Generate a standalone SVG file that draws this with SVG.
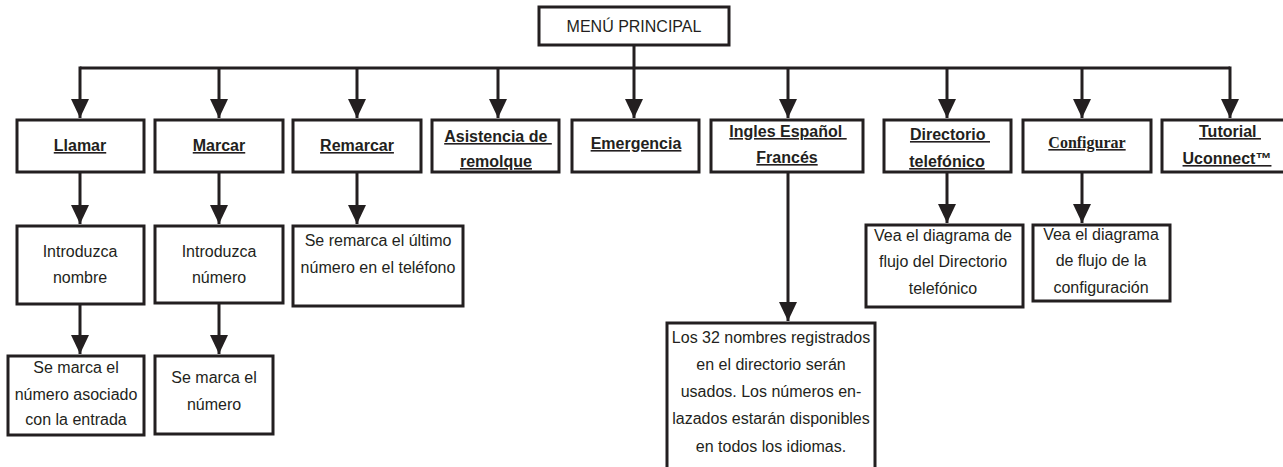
<svg xmlns="http://www.w3.org/2000/svg" width="1283" height="467" viewBox="0 0 1283 467">
<style>
.box{fill:#fff;stroke:#231f20;stroke-width:3}
.ln{fill:none;stroke:#231f20;stroke-width:3}
.t{font-family:"Liberation Sans",Arial,sans-serif;font-size:16px;fill:#231f20;text-anchor:middle}
.h{font-family:"Liberation Sans",Arial,sans-serif;font-size:16px;font-weight:bold;fill:#231f20;text-anchor:middle;text-decoration:underline;white-space:pre}
.hs{font-family:"Liberation Serif","Times New Roman",serif;font-size:16px;font-weight:bold;fill:#231f20;text-anchor:middle;text-decoration:underline}
</style>
<defs>
<marker id="ah" markerUnits="userSpaceOnUse" markerWidth="20" markerHeight="20" refX="19" refY="9" orient="auto" viewBox="0 0 20 18">
<path d="M0,0 L19,9 L0,18 z" fill="#231f20"/>
</marker>
</defs>
<rect width="1283" height="467" fill="#fff"/>
<g id="connectors">
<path class="ln" d="M634,45 V68"/>
<path class="ln" d="M80,68 H1230"/>
<path class="ln" d="M80,66.5 V118" marker-end="url(#ah)"/>
<path class="ln" d="M219,68 V118" marker-end="url(#ah)"/>
<path class="ln" d="M357,68 V118" marker-end="url(#ah)"/>
<path class="ln" d="M498,68 V118" marker-end="url(#ah)"/>
<path class="ln" d="M634,68 V118" marker-end="url(#ah)"/>
<path class="ln" d="M788,68 V118" marker-end="url(#ah)"/>
<path class="ln" d="M947,68 V118" marker-end="url(#ah)"/>
<path class="ln" d="M1082,68 V118" marker-end="url(#ah)"/>
<path class="ln" d="M1230,66.5 V118" marker-end="url(#ah)"/>
<path class="ln" d="M80,172 V224" marker-end="url(#ah)"/>
<path class="ln" d="M219,172 V224" marker-end="url(#ah)"/>
<path class="ln" d="M357,172 V224" marker-end="url(#ah)"/>
<path class="ln" d="M788,172 V321" marker-end="url(#ah)"/>
<path class="ln" d="M947,172 V223" marker-end="url(#ah)"/>
<path class="ln" d="M1082,172 V223" marker-end="url(#ah)"/>
<path class="ln" d="M80,304 V354" marker-end="url(#ah)"/>
<path class="ln" d="M219,303 V354" marker-end="url(#ah)"/>
</g>
<g id="menu">
<rect class="box" x="539" y="7" width="190" height="38"/>
<text class="t" x="634" y="32">MENÚ PRINCIPAL</text>
</g>
<g id="llamar">
<rect class="box" x="17" y="120" width="127" height="52"/>
<text class="h" x="80" y="151">Llamar</text>
</g>
<g id="marcar">
<rect class="box" x="155" y="120" width="128" height="52"/>
<text class="h" x="219" y="151">Marcar</text>
</g>
<g id="remarcar">
<rect class="box" x="293" y="120" width="128" height="52"/>
<text class="h" x="357" y="151">Remarcar</text>
</g>
<g id="asistencia">
<rect class="box" x="432" y="120" width="127" height="52"/>
<text class="h" x="498" y="142">Asistencia de </text>
<text class="h" x="496" y="167">remolque</text>
</g>
<g id="emergencia">
<rect class="box" x="572" y="120" width="127" height="52"/>
<text class="h" x="636" y="149">Emergencia</text>
</g>
<g id="idiomas">
<rect class="box" x="711" y="120" width="152" height="52"/>
<text class="h" x="788" y="137"><tspan style="text-decoration:none">I</tspan>ngles Español </text>
<text class="h" x="787" y="163">Francés</text>
</g>
<g id="directorio">
<rect class="box" x="884" y="120" width="127" height="52"/>
<text class="h" x="950" y="140">Directorio </text>
<text class="h" x="947" y="167">telefónico</text>
</g>
<g id="configurar">
<rect class="box" x="1023" y="120" width="128" height="52"/>
<text class="hs" x="1087" y="148">Configurar</text>
</g>
<g id="tutorial">
<rect class="box" x="1162" y="120" width="140" height="52"/>
<text class="h" x="1230" y="137">Tutorial </text>
<text class="h" x="1227" y="164">Uconnect™</text>
</g>
<g id="introduzca-nombre">
<rect class="box" x="17" y="226" width="127" height="78"/>
<text class="t" x="80" y="257">Introduzca</text>
<text class="t" x="80" y="283">nombre</text>
</g>
<g id="introduzca-numero">
<rect class="box" x="155" y="226" width="128" height="77"/>
<text class="t" x="219" y="257">Introduzca</text>
<text class="t" x="219" y="283">número</text>
</g>
<g id="remarca-ultimo">
<rect class="box" x="293" y="226" width="170" height="80"/>
<text class="t" x="378" y="246">Se remarca el último</text>
<text class="t" x="378" y="273">número en el teléfono</text>
</g>
<g id="marca-asociado">
<rect class="box" x="8" y="356" width="136" height="79"/>
<text class="t" x="76" y="373">Se marca el</text>
<text class="t" x="76" y="400">número asociado</text>
<text class="t" x="76" y="425">con la entrada</text>
</g>
<g id="marca-numero">
<rect class="box" x="155" y="356" width="118" height="78"/>
<text class="t" x="214" y="383">Se marca el</text>
<text class="t" x="214" y="410">número</text>
</g>
<g id="nombres-registrados">
<rect class="box" x="667" y="323" width="208" height="160"/>
<text class="t" x="771" y="343">Los 32 nombres registrados</text>
<text class="t" x="771" y="370">en el directorio serán</text>
<text class="t" x="771" y="397">usados. Los números en-</text>
<text class="t" x="771" y="424">lazados estarán disponibles</text>
<text class="t" x="771" y="452">en todos los idiomas.</text>
</g>
<g id="ver-directorio">
<rect class="box" x="866" y="225" width="157" height="82"/>
<text class="t" x="943" y="241">Vea el diagrama de</text>
<text class="t" x="943" y="267">flujo del Directorio</text>
<text class="t" x="943" y="294">telefónico</text>
</g>
<g id="ver-configuracion">
<rect class="box" x="1033" y="225" width="137" height="76"/>
<text class="t" x="1101" y="240">Vea el diagrama</text>
<text class="t" x="1101" y="266">de flujo de la</text>
<text class="t" x="1101" y="293">configuración</text>
</g>
</svg>
